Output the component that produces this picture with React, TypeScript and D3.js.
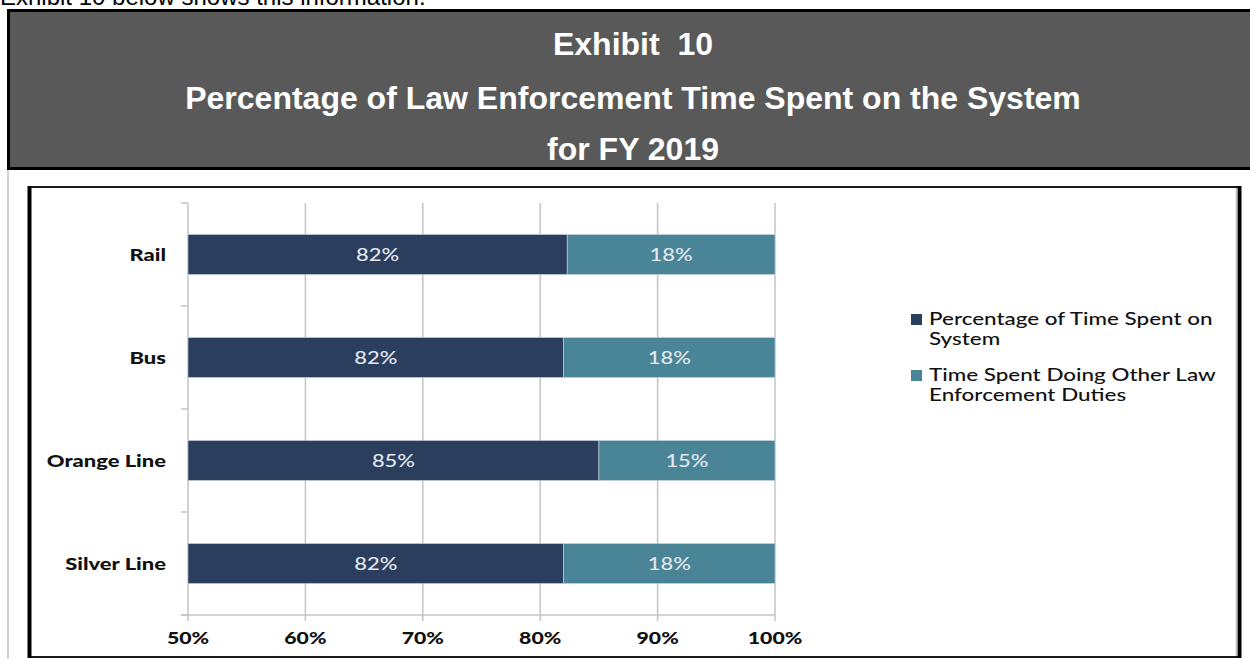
import React from "react";
import * as d3 from "d3";

const categories = ["Rail", "Bus", "Orange Line", "Silver Line"];
const systemShare = [82.3, 82, 85, 82];
const otherShare = [17.7, 18, 15, 18];
const systemLabels = ["82%", "82%", "85%", "82%"];
const otherLabels = ["18%", "18%", "15%", "18%"];
const xTicks = [50, 60, 70, 80, 90, 100];
const seriesNames = ["Percentage of Time Spent on System", "Time Spent Doing Other Law Enforcement Duties"];
const legendLines = [["Percentage of Time Spent on", "System"], ["Time Spent Doing Other Law", "Enforcement Duties"]];
const titleLines = ["Exhibit  10", "Percentage of Law Enforcement Time Spent on the System", "for FY 2019"];
const introText = "Exhibit 10 below shows this information.";

const colors = ["#2c3e5d", "#4a8597"];
const SX = 1.33;
const chartFont = "Lato, 'Open Sans', sans-serif";

export default function App() {
  const W = 1250, H = 659;
  const x = d3.scaleLinear().domain([50, 100]).range([188, 775]).clamp(true);
  const y = d3.scaleBand<string>().domain(categories).range([203, 615]).paddingInner(0.612).paddingOuter(0.306);
  const rows = categories.map((c, i) => ({ cat: c, system: systemShare[i], other: otherShare[i] }));
  const stacked = d3.stack<any>().keys(["system", "other"])(rows);
  const labels = [systemLabels, otherLabels];
  const step = y.step();
  const bounds = d3.range(categories.length + 1).map((i) => 203 + i * step);
  const gridColor = "#c4c4c4";

  return (
    <svg width={W} height={H} style={{ position: "absolute", left: 0, top: 0, background: "#fff" }}>
      {/* intro text (cut off at the top, as in the source page) */}
      <text x={0} y={5} fontFamily="'Liberation Sans', Arial, sans-serif" fontSize={24} fill="#000">{introText}</text>

      {/* header */}
      <rect x={8.5} y={10.5} width={1250} height={158} fill="#595959" stroke="#000" strokeWidth={3} />
      {titleLines.map((t, i) => (
        <text key={i} x={633} y={[55, 109, 160][i]} textAnchor="middle" fill="#fff" style={{ whiteSpace: "pre" }}
          fontFamily="'Liberation Sans', Arial, sans-serif" fontWeight="bold" fontSize={32}>{t}</text>
      ))}
      <line x1={8} x2={8} y1={170} y2={659} stroke="#c3c3c3" strokeWidth={1.5} />

      {/* chart frame */}
      <rect x={29} y={187} width={1210} height={470} fill="#fff" stroke="#1a1a1a" strokeWidth={2} />
      <line x1={29.5} x2={29.5} y1={186} y2={658} stroke="#000" strokeWidth={4} />
      <line x1={1239.5} x2={1239.5} y1={186} y2={658} stroke="#000" strokeWidth={4} />
      <line x1={1236.5} x2={1236.5} y1={188} y2={656} stroke="#bbb" strokeWidth={1.5} />

      {/* gridlines */}
      {xTicks.slice(1).map((t) => (
        <line key={t} x1={x(t)} x2={x(t)} y1={203} y2={621} stroke={gridColor} strokeWidth={1.5} />
      ))}
      {/* y axis */}
      <line x1={x(50)} x2={x(50)} y1={203} y2={621} stroke={gridColor} strokeWidth={1.5} />
      {bounds.map((b, i) => (
        <line key={i} x1={181} x2={x(50)} y1={b} y2={b} stroke={gridColor} strokeWidth={1.5} />
      ))}
      {/* x axis */}
      <line x1={181} x2={x(100)} y1={615} y2={615} stroke={gridColor} strokeWidth={1.5} />

      {/* bars */}
      {stacked.map((s, si) => (
        <g key={si}>
          {s.map((d, i) => {
            const x0 = x(d[0]), x1 = x(d[1]);
            const yy = y(categories[i])!;
            return (
              <g key={i}>
                <rect x={x0} y={yy} width={x1 - x0} height={y.bandwidth()} fill={colors[si]} stroke="#c9d3de" strokeWidth={0.6} />
                <text transform={`translate(${(x0 + x1) / 2},${yy + y.bandwidth() / 2 + 6}) scale(${SX},1)`}
                  textAnchor="middle" fontFamily={chartFont} fontWeight={500} fontSize={16.5} fill="#e3e8ee">{labels[si][i]}</text>
              </g>
            );
          })}
        </g>
      ))}

      {/* category labels */}
      {categories.map((c) => (
        <text key={c} transform={`translate(166,${y(c)! + y.bandwidth() / 2 + 6}) scale(${SX},1)`}
          textAnchor="end" fontFamily={chartFont} fontWeight="900" fontSize={16.5} fill="#111">{c}</text>
      ))}

      {/* x tick labels */}
      {xTicks.map((t) => (
        <text key={t} transform={`translate(${x(t)},644) scale(${SX},1)`} textAnchor="middle"
          fontFamily={chartFont} fontWeight="900" fontSize={16} fill="#111">{`${t}%`}</text>
      ))}

      {/* legend */}
      {seriesNames.map((n, i) => (
        <g key={n}>
          <rect x={911} y={314 + i * 56} width={11} height={11} fill={colors[i]} />
          {legendLines[i].map((l, j) => (
            <text key={j} transform={`translate(929,${325 + i * 56 + j * 20}) scale(1.36,1)`}
              fontFamily={chartFont} fontWeight={500} fontSize={16.5} fill="#111">{l}</text>
          ))}
        </g>
      ))}
    </svg>
  );
}
